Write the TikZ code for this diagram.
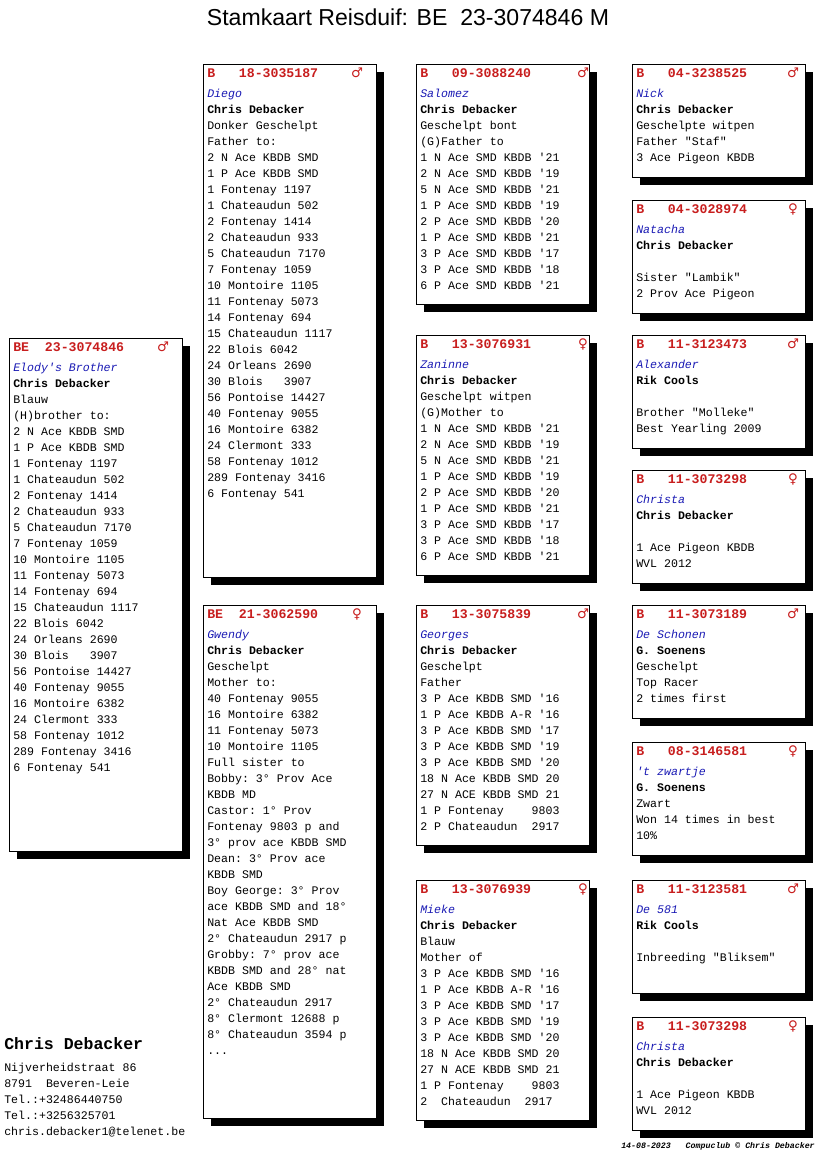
\documentclass[tikz,border=0pt]{standalone}
\usepackage{fontspec}
\setmainfont{Liberation Serif}
\setsansfont{Liberation Sans}
\setmonofont{Liberation Mono}
\newfontfamily\symfont{DejaVu Sans}
\usetikzlibrary{shadows}
\definecolor{hdrred}{RGB}{200,30,30}
\definecolor{nameblue}{RGB}{25,25,180}
\pgfdeclarelayer{bg}
\pgfsetlayers{bg,main}
\tikzset{
  pbox/.style={draw=black, line width=0.75pt, fill=white, inner sep=0pt, outer sep=0pt,
    anchor=north west, minimum width=129.75pt,
    general shadow={fill=black, shadow xshift=6pt, shadow yshift=-6pt}},
  hdr/.style={anchor=base west, inner sep=0pt, text=hdrred, font=\fontsize{9.9}{12}\selectfont\ttfamily\bfseries},
  sexsym/.style={anchor=base, inner sep=0pt, text=hdrred, font=\fontsize{10}{12}\selectfont\symfont},
  body/.style={anchor=base west, inner sep=0pt},
  link/.style={draw=black, line width=0.75pt},
}
\newcommand\pg[8]{%
  \node[pbox, minimum height={#4*0.75pt}] (#1) at (#2,#3) {};
  \node[hdr] (#1h) at ([shift={(4,13)}]#1.north west) {#5};
  \node[sexsym] (#1s) at ([shift={(#7,13)}]#1.north west) {#6};
  \node[body] (#1b) at ([shift={(4,33)}]#1.north west)
    {\parbox[t]{127pt}{\fontsize{8.7}{12}\selectfont\ttfamily #8}};
}
\newcommand\nm[1]{\textcolor{nameblue}{\itshape #1}}
\newcommand\ow[1]{\textbf{#1}}
\begin{document}
\begin{tikzpicture}[x=0.75pt,y=-0.75pt]
\fill[white] (0,0) rectangle (816,1172);
\useasboundingbox (0,0) rectangle (816,1172);

\node[font=\fontsize{17.3}{20}\selectfont\sffamily] (title) at (408,17) {Stamkaart Reisduif: BE\ \ 23-3074846 M};

% subject
\pg{subj}{9}{338}{513}{BE\ \ 23-3074846}{♂}{154}{%
\nm{Elody's Brother}\\ \ow{Chris Debacker}\\ Blauw\\ (H)brother to:\\
2 N Ace KBDB SMD\\ 1 P Ace KBDB SMD\\ 1 Fontenay 1197\\ 1 Chateaudun 502\\
2 Fontenay 1414\\ 2 Chateaudun 933\\ 5 Chateaudun 7170\\ 7 Fontenay 1059\\
10 Montoire 1105\\ 11 Fontenay 5073\\ 14 Fontenay 694\\ 15 Chateaudun 1117\\
22 Blois 6042\\ 24 Orleans 2690\\ 30 Blois\ \ \ 3907\\ 56 Pontoise 14427\\
40 Fontenay 9055\\ 16 Montoire 6382\\ 24 Clermont 333\\ 58 Fontenay 1012\\
289 Fontenay 3416\\ 6 Fontenay 541}

% generation 1
\pg{diego}{203}{64}{513}{B\ \ \ 18-3035187}{♂}{154}{%
\nm{Diego}\\ \ow{Chris Debacker}\\ Donker Geschelpt\\ Father to:\\
2 N Ace KBDB SMD\\ 1 P Ace KBDB SMD\\ 1 Fontenay 1197\\ 1 Chateaudun 502\\
2 Fontenay 1414\\ 2 Chateaudun 933\\ 5 Chateaudun 7170\\ 7 Fontenay 1059\\
10 Montoire 1105\\ 11 Fontenay 5073\\ 14 Fontenay 694\\ 15 Chateaudun 1117\\
22 Blois 6042\\ 24 Orleans 2690\\ 30 Blois\ \ \ 3907\\ 56 Pontoise 14427\\
40 Fontenay 9055\\ 16 Montoire 6382\\ 24 Clermont 333\\ 58 Fontenay 1012\\
289 Fontenay 3416\\ 6 Fontenay 541}

\pg{gwendy}{203}{605}{513}{BE\ \ 21-3062590}{♀}{154}{%
\nm{Gwendy}\\ \ow{Chris Debacker}\\ Geschelpt\\ Mother to:\\
40 Fontenay 9055\\ 16 Montoire 6382\\ 11 Fontenay 5073\\ 10 Montoire 1105\\
Full sister to\\ Bobby: 3° Prov Ace\\ KBDB MD\\ Castor: 1° Prov\\
Fontenay 9803 p and\\ 3° prov ace KBDB SMD\\ Dean: 3° Prov ace\\ KBDB SMD\\
Boy George: 3° Prov\\ ace KBDB SMD and 18°\\ Nat Ace KBDB SMD\\ 2° Chateaudun 2917 p\\
Grobby: 7° prov ace\\ KBDB SMD and 28° nat\\ Ace KBDB SMD\\ 2° Chateaudun 2917\\
8° Clermont 12688 p\\ 8° Chateaudun 3594 p\\ ...}

% generation 2
\pg{salomez}{416}{64}{240}{B\ \ \ 09-3088240}{♂}{167}{%
\nm{Salomez}\\ \ow{Chris Debacker}\\ Geschelpt bont\\ (G)Father to\\
1 N Ace SMD KBDB '21\\ 2 N Ace SMD KBDB '19\\ 5 N Ace SMD KBDB '21\\
1 P Ace SMD KBDB '19\\ 2 P Ace SMD KBDB '20\\ 1 P Ace SMD KBDB '21\\
3 P Ace SMD KBDB '17\\ 3 P Ace SMD KBDB '18\\ 6 P Ace SMD KBDB '21}

\pg{zaninne}{416}{335}{240}{B\ \ \ 13-3076931}{♀}{167}{%
\nm{Zaninne}\\ \ow{Chris Debacker}\\ Geschelpt witpen\\ (G)Mother to\\
1 N Ace SMD KBDB '21\\ 2 N Ace SMD KBDB '19\\ 5 N Ace SMD KBDB '21\\
1 P Ace SMD KBDB '19\\ 2 P Ace SMD KBDB '20\\ 1 P Ace SMD KBDB '21\\
3 P Ace SMD KBDB '17\\ 3 P Ace SMD KBDB '18\\ 6 P Ace SMD KBDB '21}

\pg{georges}{416}{605}{240}{B\ \ \ 13-3075839}{♂}{167}{%
\nm{Georges}\\ \ow{Chris Debacker}\\ Geschelpt\\ Father\\
3 P Ace KBDB SMD '16\\ 1 P Ace KBDB A-R '16\\ 3 P Ace KBDB SMD '17\\
3 P Ace KBDB SMD '19\\ 3 P Ace KBDB SMD '20\\ 18 N Ace KBDB SMD 20\\
27 N ACE KBDB SMD 21\\ 1 P Fontenay\ \ \ \ 9803\\ 2 P Chateaudun\ \ 2917}

\pg{mieke}{416}{880}{240}{B\ \ \ 13-3076939}{♀}{167}{%
\nm{Mieke}\\ \ow{Chris Debacker}\\ Blauw\\ Mother of\\
3 P Ace KBDB SMD '16\\ 1 P Ace KBDB A-R '16\\ 3 P Ace KBDB SMD '17\\
3 P Ace KBDB SMD '19\\ 3 P Ace KBDB SMD '20\\ 18 N Ace KBDB SMD 20\\
27 N ACE KBDB SMD 21\\ 1 P Fontenay\ \ \ \ 9803\\ 2\ \ Chateaudun\ \ 2917}

% generation 3
\pg{nick}{632}{64}{113}{B\ \ \ 04-3238525}{♂}{161}{%
\nm{Nick}\\ \ow{Chris Debacker}\\ Geschelpte witpen\\ Father "Staf"\\ 3 Ace Pigeon KBDB}
\pg{natacha}{632}{200}{113}{B\ \ \ 04-3028974}{♀}{161}{%
\nm{Natacha}\\ \ow{Chris Debacker}\\ \mbox{}\\ Sister "Lambik"\\ 2 Prov Ace Pigeon}
\pg{alexander}{632}{335}{113}{B\ \ \ 11-3123473}{♂}{161}{%
\nm{Alexander}\\ \ow{Rik Cools}\\ \mbox{}\\ Brother "Molleke"\\ Best Yearling 2009}
\pg{christa}{632}{470}{113}{B\ \ \ 11-3073298}{♀}{161}{%
\nm{Christa}\\ \ow{Chris Debacker}\\ \mbox{}\\ 1 Ace Pigeon KBDB\\ WVL 2012}
\pg{schonen}{632}{605}{113}{B\ \ \ 11-3073189}{♂}{161}{%
\nm{De Schonen}\\ \ow{G. Soenens}\\ Geschelpt\\ Top Racer\\ 2 times first}
\pg{zwartje}{632}{742}{113}{B\ \ \ 08-3146581}{♀}{161}{%
\nm{'t zwartje}\\ \ow{G. Soenens}\\ Zwart\\ Won 14 times in best\\ 10\%}
\pg{de581}{632}{880}{113}{B\ \ \ 11-3123581}{♂}{161}{%
\nm{De 581}\\ \ow{Rik Cools}\\ \mbox{}\\ Inbreeding "Bliksem"}
\pg{christab}{632}{1017}{113}{B\ \ \ 11-3073298}{♀}{161}{%
\nm{Christa}\\ \ow{Chris Debacker}\\ \mbox{}\\ 1 Ace Pigeon KBDB\\ WVL 2012}

% footer
\node[anchor=base west, inner sep=0pt, font=\fontsize{12.4}{14}\selectfont\ttfamily\bfseries] (owner) at (4,1049) {Chris Debacker};
\node[anchor=base west, inner sep=0pt] (addr) at (4,1071)
  {\parbox[t]{150pt}{\fontsize{8.7}{12}\selectfont\ttfamily Nijverheidstraat 86\\ 8791\ \ Beveren-Leie\\ Tel.:+32486440750\\ Tel.:+3256325701\\ chris.debacker1@telenet.be}};
\node[anchor=base east, inner sep=0pt, font=\fontsize{6.2}{8}\selectfont\ttfamily\bfseries\itshape] (date) at (815,1148)
  {14-08-2023\ \ \ Compuclub © Chris Debacker};

% connectors
\begin{pgfonlayer}{bg}
\coordinate (b1) at (403,0);
\coordinate (b2) at (619,0);
\coordinate (sx) at (90,0);
\coordinate (dy) at (0,278);
\coordinate (gy) at (0,912);
\draw[link] (subj.north -| sx) |- (diego.west |- dy);
\draw[link] (subj.south -| sx) |- (gwendy.west |- gy);
\draw[link] (diego.east) -- (diego.east -| b1);
\draw[link] (salomez.west) -- (salomez.west -| b1) -- (zaninne.west -| b1) -- (zaninne.west);
\draw[link] (gwendy.east) -- (gwendy.east -| b1);
\draw[link] (georges.west) -- (georges.west -| b1) -- (mieke.west -| b1) -- (mieke.west);
\draw[link] (salomez.east) -- (salomez.east -| b2);
\draw[link] (nick.west) -- (nick.west -| b2) -- (natacha.west -| b2) -- (natacha.west);
\draw[link] (zaninne.east) -- (zaninne.east -| b2);
\draw[link] (alexander.west) -- (alexander.west -| b2) -- (christa.west -| b2) -- (christa.west);
\draw[link] (georges.east) -- (georges.east -| b2);
\draw[link] (schonen.west) -- (schonen.west -| b2) -- (zwartje.west -| b2) -- (zwartje.west);
\draw[link] (mieke.east) -- (mieke.east -| b2);
\draw[link] (de581.west) -- (de581.west -| b2) -- (christab.west -| b2) -- (christab.west);
\end{pgfonlayer}
\end{tikzpicture}
\end{document}
